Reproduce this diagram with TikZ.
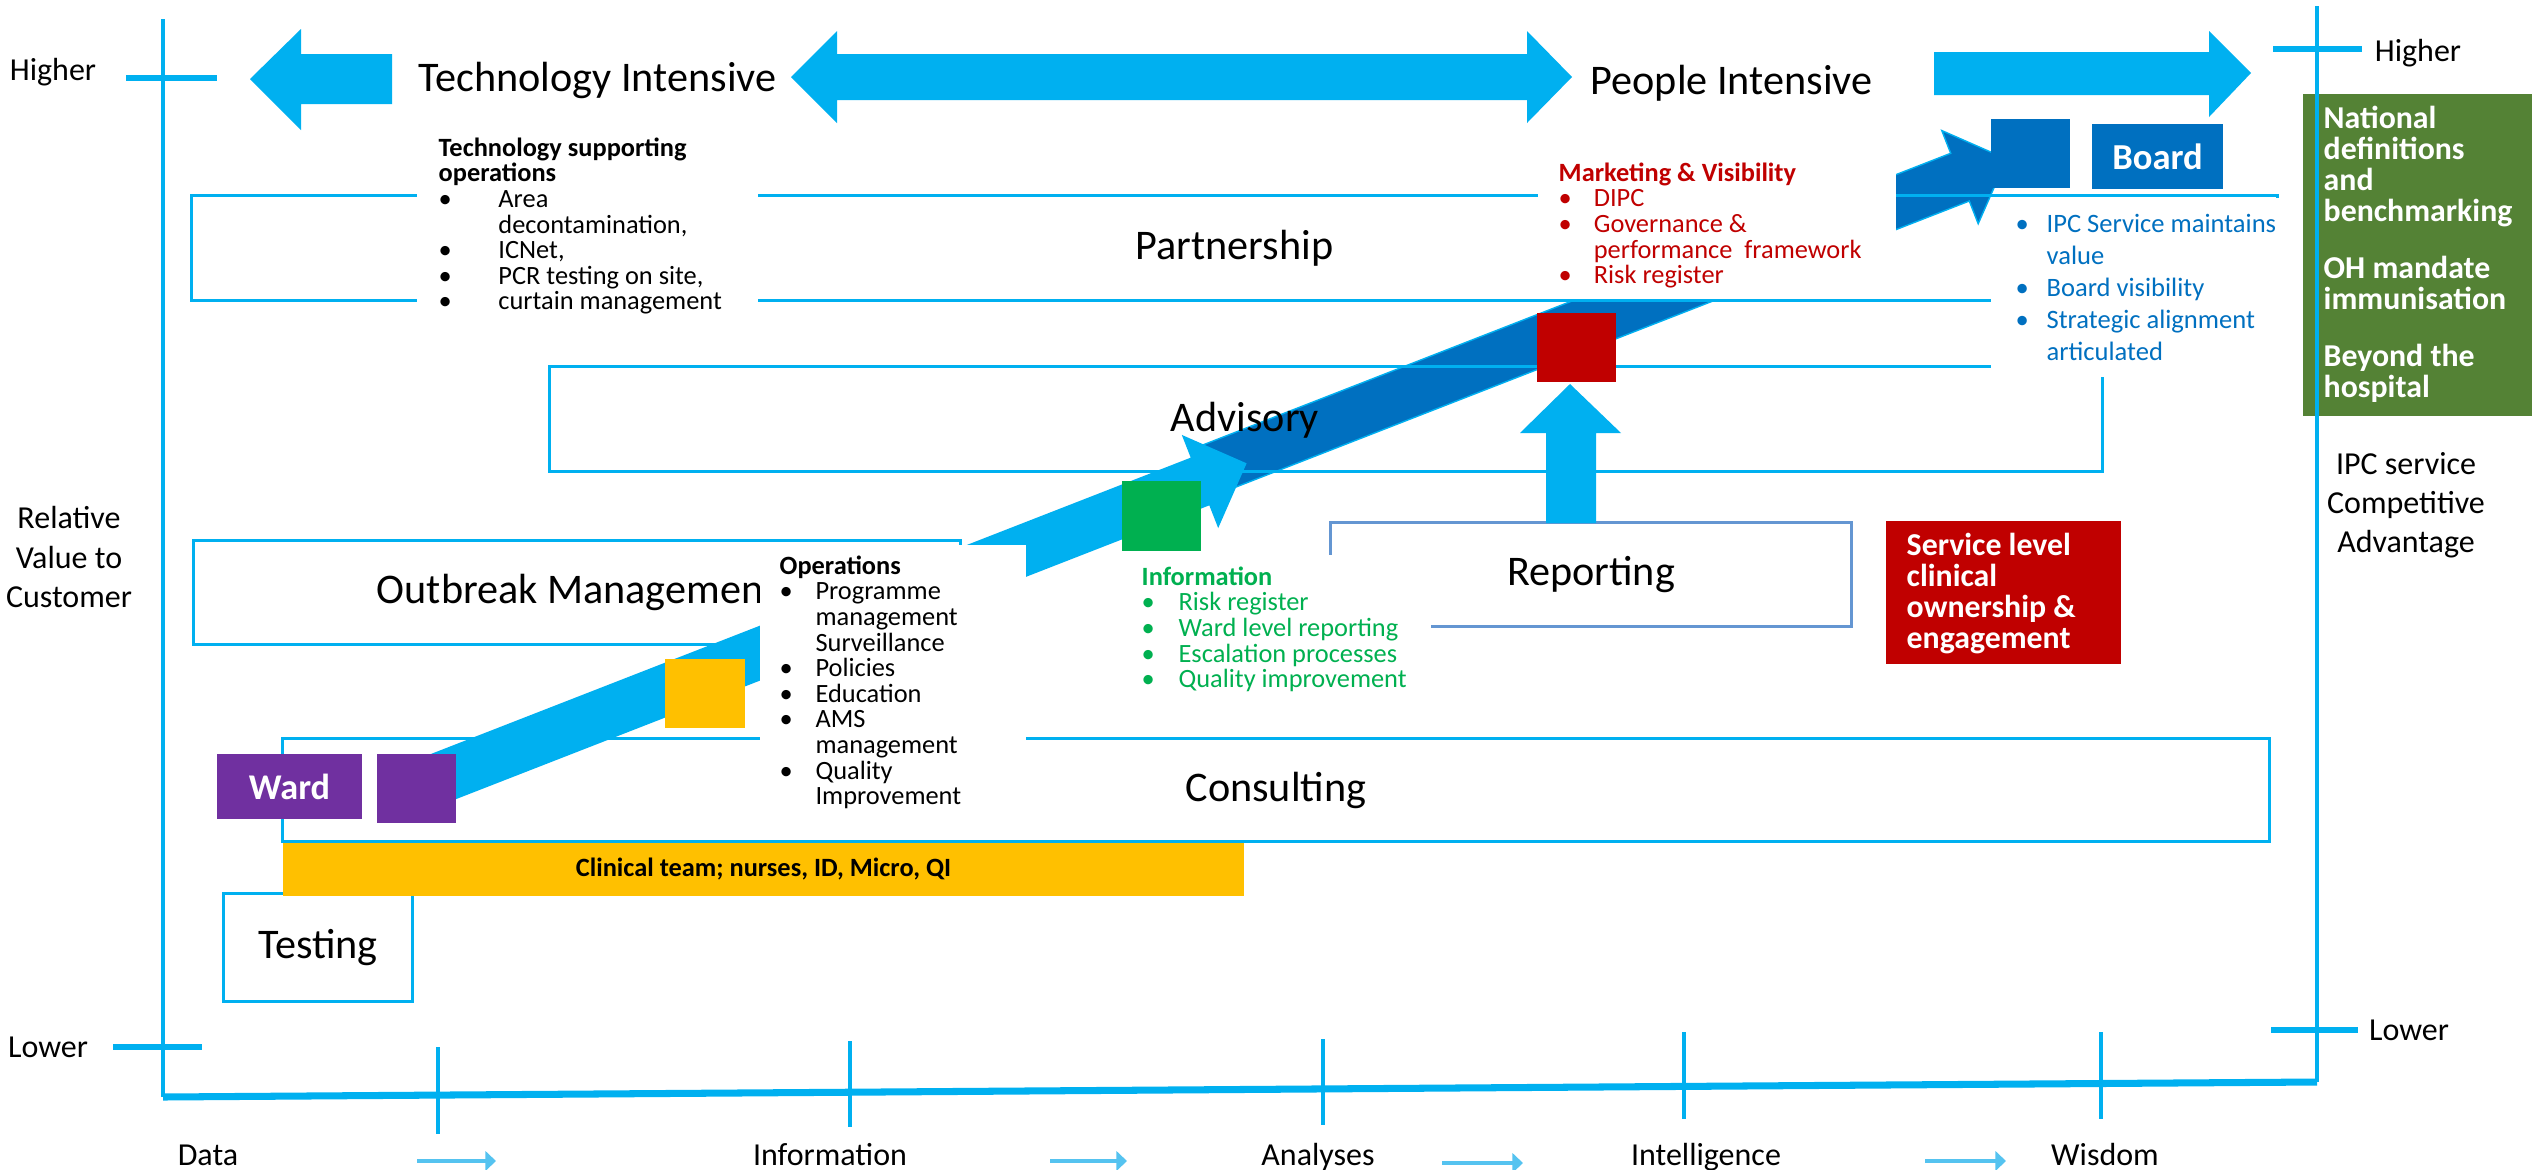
\documentclass[tikz,border=0pt]{standalone}
\usepackage{fontspec}
\setmainfont{Carlito}
\usetikzlibrary{arrows.meta}
\definecolor{lb}{RGB}{0,176,240}
\definecolor{db}{RGB}{0,112,192}
\definecolor{rd}{RGB}{192,0,0}
\definecolor{yl}{RGB}{255,192,0}
\definecolor{gn}{RGB}{0,176,80}
\definecolor{dgn}{RGB}{84,130,53}
\definecolor{pu}{RGB}{112,48,160}
\definecolor{rb}{RGB}{100,150,210}
\definecolor{sa}{RGB}{85,195,240}
\newcommand\myfsmall{\fontsize{7.5pt}{7.28pt}\selectfont}
\newcommand\myfmid{\fontsize{9.1pt}{11.1pt}\selectfont}
\newcommand\myfbig{\fontsize{12pt}{14pt}\selectfont}
\newcommand\mybul[1]{\makebox[#1][l]{\textbullet}}
\tikzset{
  box/.style={draw=lb, line width=0.85pt, inner sep=0pt, font=\myfbig},
  sq/.style={inner sep=0pt, draw=none},
  cover/.style={fill=white, draw=none, inner sep=0pt},
  txt/.style={inner sep=0pt, align=left, anchor=north west},
  lbl/.style={inner sep=0pt, font=\myfmid},
  axisline/.style={draw=lb, line width=1.2pt},
  tickmark/.style={draw=lb, line width=1.8pt},
  xtick/.style={draw=lb, line width=1pt},
  smallarr/.style={draw=sa, line width=1.1pt, -{Triangle[length=3pt,width=5.5pt]}},
}
\begin{document}
\begin{tikzpicture}[x=0.01cm, y=-0.01cm]
\useasboundingbox (0,0) rectangle (2532,1169);
\fill[white] (0,0) rectangle (2532,1169);

% dark blue band (behind)
\filldraw[fill=db, draw=lb, line width=0.4pt] (1195.7,447.75) -- (1950.7,153.3) -- (1941.8,130.56) -- (2006.6,159) -- (1978.2,223.7) -- (1969.3,201) -- (1214.3,495.45) -- cycle;

% layer boxes
\node[box, minimum width=20.85cm, minimum height=1.04cm] (partner) at (1234.5,248) {Partnership};
\node[box, minimum width=15.52cm, minimum height=1.04cm] (advisory) at (1326,419) {};
\node[inner sep=0pt, font=\myfbig] (advtext) at (1245,420) {Advisory};
\node[box, minimum width=7.66cm, minimum height=1.03cm] (outbreak) at (577,592.5) {Outbreak Management};
\node[box, minimum width=19.86cm, minimum height=1.02cm] (consult) at (1276,790) {Consulting};
\node[box, draw=rb, minimum width=5.20cm, minimum height=1.03cm] (report) at (1591,574.5) {Reporting};
\node[box, minimum width=1.88cm, minimum height=1.07cm] (testing) at (318,947.5) {Testing};

% light blue band arrow
\fill[lb] (390.7,769.65) -- (1190.7,457.65) -- (1181.8,434.9) -- (1246.6,463.3) -- (1218.2,528.1) -- (1209.3,505.35) -- (409.3,817.35) -- cycle;

% up arrow from Reporting to red square
\fill[lb] (1546,523) -- (1546,433) -- (1520,433) -- (1570,384) -- (1621,433) -- (1596,433) -- (1596,523) -- cycle;

% white text covers
\node[cover, minimum width=3.41cm, minimum height=1.80cm] (techcov) at (587.5,220) {};
\node[cover, minimum width=2.66cm, minimum height=2.70cm] (opscov) at (893,680) {};
\node[cover, minimum width=3.06cm, minimum height=1.45cm] (infocov) at (1278,627.5) {};
\node[cover, minimum width=3.58cm, minimum height=1.485cm] (mktcov) at (1717,224.25) {};
\node[cover, minimum width=2.99cm, minimum height=1.79cm] (ipccov) at (2140.5,287.5) {};

% coloured squares
\node[sq, fill=pu, minimum width=1.45cm, minimum height=0.65cm, text=white, font=\bfseries\fontsize{10.3pt}{12pt}\selectfont] (ward) at (289.5,786.5) {Ward};
\node[sq, fill=pu, minimum width=0.79cm, minimum height=0.69cm] (pusq) at (416.5,788.5) {};
\node[sq, fill=yl, minimum width=0.80cm, minimum height=0.69cm] (ylsq) at (705,693.5) {};
\node[sq, fill=gn, minimum width=0.79cm, minimum height=0.70cm] (gnsq) at (1161.5,516) {};
\node[sq, fill=rd, minimum width=0.79cm, minimum height=0.69cm] (rdsq) at (1576.5,347.5) {};
\node[sq, fill=db, minimum width=0.79cm, minimum height=0.69cm] (dbsq) at (2030.5,153.5) {};
\node[sq, fill=db, minimum width=1.31cm, minimum height=0.65cm, text=white, font=\bfseries\fontsize{10.4pt}{12pt}\selectfont] (board) at (2157.5,156.5) {Board};
\node[sq, fill=rd, minimum width=2.35cm, minimum height=1.43cm] (service) at (2003.5,592.5) {};
\node[sq, fill=dgn, minimum width=2.29cm, minimum height=3.22cm] (natbox) at (2417.5,255) {};
\node[sq, fill=yl, minimum width=9.61cm, minimum height=0.53cm, font=\bfseries\myfsmall] (clinical) at (763.5,869.5) {Clinical team; nurses, ID, Micro, QI};

% texts in boxes
\node[txt, font=\myfsmall] (techtxt) at (438,137) {\textbf{Technology supporting}\\\textbf{operations}\\\mybul{17pt}Area\\\hspace*{17pt}decontamination,\\\mybul{17pt}ICNet,\\\mybul{17pt}PCR testing on site,\\\mybul{17pt}curtain management};
\node[txt, font=\myfsmall] (opstxt) at (779,555) {\textbf{Operations}\\\mybul{10.2pt}Programme\\\hspace*{10.2pt}management\\\hspace*{10.2pt}Surveillance\\\mybul{10.2pt}Policies\\\mybul{10.2pt}Education\\\mybul{10.2pt}AMS\\\hspace*{10.2pt}management\\\mybul{10.2pt}Quality\\\hspace*{10.2pt}Improvement};
\node[txt, font=\myfsmall, text=gn] (infotxt) at (1141,566) {\textbf{Information}\\\mybul{10.5pt}Risk register\\\mybul{10.5pt}Ward level reporting\\\mybul{10.5pt}Escalation processes\\\mybul{10.5pt}Quality improvement};
\node[txt, font=\myfsmall, text=rd] (mkttxt) at (1558,162) {\textbf{Marketing \& Visibility}\\\mybul{10pt}DIPC\\\mybul{10pt}Governance \&\\\hspace*{10pt}performance\ \ framework\\\mybul{10pt}Risk register};
\node[txt, font=\fontsize{7.55pt}{9.1pt}\selectfont, text=db] (ipctxt) at (2015,214) {\mybul{8.8pt}IPC Service maintains\\\hspace*{8.8pt}value\\\mybul{8.8pt}Board visibility\\\mybul{8.8pt}Strategic alignment\\\hspace*{8.8pt}articulated};
\node[txt, font=\bfseries\fontsize{9.05pt}{8.82pt}\selectfont, text=white] (nattxt) at (2323,105) {National\\definitions\\and\\benchmarking\\[7.4pt]OH mandate\\immunisation\\[7.4pt]Beyond the\\hospital};
\node[txt, font=\bfseries\fontsize{9.05pt}{8.82pt}\selectfont, text=white] (servtxt) at (1906,532) {Service level\\clinical\\ownership \&\\engagement};

% top arrows
\fill[lb] (250,79) -- (301,29) -- (301,54) -- (392,54) -- (392,104) -- (301,104) -- (301,130) -- cycle;
\fill[lb] (791,77) -- (837,31) -- (837,54) -- (1527,54) -- (1527,31) -- (1572,77) -- (1527,123) -- (1527,100) -- (837,100) -- (837,123) -- cycle;
\fill[lb] (1934,52) -- (2209,52) -- (2209,31) -- (2251,73) -- (2209,117) -- (2209,95) -- (1934,95) -- cycle;
\node[inner sep=0pt, font=\myfbig] (techint) at (597.5,80) {Technology Intensive};
\node[inner sep=0pt, font=\myfbig] (peopint) at (1731.5,83) {People Intensive};

% axes
\draw[axisline] (163,19) -- (163,1097);
\draw[axisline] (2317,6) -- (2317,1082);
\draw[draw=lb, line width=2pt] (163,1097) -- (2317,1082);
\draw[tickmark] (126,78) -- (217,78);
\draw[tickmark] (2273,49) -- (2362,49);
\draw[tickmark] (113,1047) -- (202,1047);
\draw[tickmark] (2271,1030) -- (2358,1030);
\draw[xtick] (438,1047) -- (438,1134);
\draw[xtick] (850,1041) -- (850,1127);
\draw[xtick] (1323,1039) -- (1323,1125);
\draw[xtick] (1684,1032) -- (1684,1119);
\draw[xtick] (2101,1032) -- (2101,1119);

\node[lbl] (hiL) at (53,72) {Higher};
\node[lbl] (hiR) at (2418,53) {Higher};
\node[lbl] (loL) at (48,1047) {Lower};
\node[lbl] (loR) at (2409,1030) {Lower};
\node[lbl, align=center] (relval) at (69,557) {Relative\\Value to\\Customer};
\node[lbl, align=center] (ipcadv) at (2406,505) {IPC service\\Competitive\\Advantage};

\node[lbl, anchor=base] (xdata) at (208,1165) {Data};
\node[lbl, anchor=base] (xinfo) at (830,1165) {Information};
\node[lbl, anchor=base] (xanal) at (1318,1165) {Analyses};
\node[lbl, anchor=base] (xintel) at (1706,1165) {Intelligence};
\node[lbl, anchor=base] (xwis) at (2105,1165) {Wisdom};
\draw[smallarr] (417,1161) -- (496,1161);
\draw[smallarr] (1050,1161) -- (1127,1161);
\draw[smallarr] (1442,1163) -- (1523,1163);
\draw[smallarr] (1925,1161) -- (2006,1161);
\end{tikzpicture}
\end{document}
